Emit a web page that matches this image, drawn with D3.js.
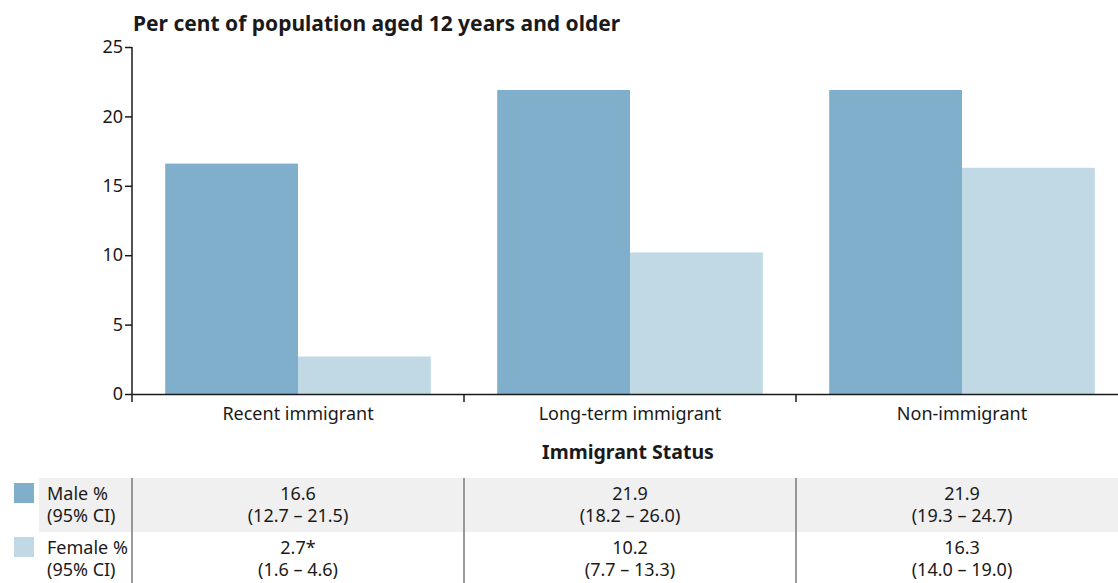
<!DOCTYPE html>
<html>
<head>
<meta charset="utf-8">
<script src="https://cdn.jsdelivr.net/npm/d3@7"></script>
<style>
  body { margin: 0; background: #fff; }
  svg text { font-family: "Noto Sans", "Open Sans", sans-serif; fill: #1a1a1a; }
</style>
</head>
<body>
<svg id="chart" width="1118" height="583"></svg>
<script>
// data
const categories = ["Recent immigrant", "Long-term immigrant", "Non-immigrant"];
const series = ["Male", "Female"];
const maleValues = [16.6, 21.9, 21.9];
const femaleValues = [2.7, 10.2, 16.3];
const maleLow = [12.7, 18.2, 19.3];
const maleHigh = [21.5, 26.0, 24.7];
const femaleLow = [1.6, 7.7, 14.0];
const femaleHigh = [4.6, 13.3, 19.0];
const femaleFlags = ["*", "", ""];
const yTicks = [0, 5, 10, 15, 20, 25];

const colors = { Male: "#7fafcb", Female: "#c0d9e5" };

const svg = d3.select("svg#chart");

const margins = { top: 47, left: 132 };
const plotRight = 1128;
const baseY = 394;
const fs = 18;

const xScale = d3
  .scaleBand()
  .domain(categories)
  .range([margins.left, plotRight])
  .paddingInner(0.2)
  .paddingOuter(0.1);

const xSub = d3.scaleBand().domain(series).range([0, xScale.bandwidth()]);

const yScale = d3.scaleLinear().domain([0, 25]).range([baseY, margins.top]);

// title
svg
  .append("text")
  .attr("x", 133)
  .attr("y", 31)
  .attr("font-size", 21)
  .attr("font-weight", "bold")
  .text("Per cent of population aged 12 years and older");

// bars
const rows = categories.map((c, i) => ({
  cat: c,
  vals: [
    { s: "Male", v: maleValues[i] },
    { s: "Female", v: femaleValues[i] },
  ],
}));

const groups = svg
  .selectAll("g.cat")
  .data(rows)
  .join("g")
  .attr("class", "cat")
  .attr("transform", (d) => `translate(${xScale(d.cat)},0)`);

groups
  .selectAll("rect")
  .data((d) => d.vals)
  .join("rect")
  .attr("x", (d) => xSub(d.s))
  .attr("width", xSub.bandwidth())
  .attr("y", (d) => yScale(d.v))
  .attr("height", (d) => baseY - yScale(d.v))
  .attr("fill", (d) => colors[d.s]);

// y axis
const yAxis = d3.axisLeft(yScale).tickValues(yTicks).tickSize(7).tickSizeOuter(0).tickPadding(2);
const yG = svg.append("g").attr("transform", `translate(${margins.left},0)`).call(yAxis);
yG.select(".domain").remove();
yG.selectAll(".tick line").attr("stroke", "#1a1a1a").attr("stroke-width", 1.5);
yG.selectAll(".tick text").attr("font-size", fs).style("font-family", '"Noto Sans", sans-serif').attr("fill", "#1a1a1a");
yG.append("line")
  .attr("x1", 0).attr("x2", 0)
  .attr("y1", yScale(25)).attr("y2", baseY + 8)
  .attr("stroke", "#1a1a1a").attr("stroke-width", 1.5);

// x axis
const xAxis = d3.axisBottom(xScale).tickSize(0).tickSizeOuter(0).tickPadding(13);
const xG = svg.append("g").attr("transform", `translate(0,${baseY})`).call(xAxis);
xG.select(".domain").attr("stroke", "#1a1a1a").attr("stroke-width", 1.5);
xG.selectAll(".tick text").attr("font-size", fs).style("font-family", '"Noto Sans", sans-serif').attr("fill", "#1a1a1a");

const bandStart = (c) => xScale(c) - xScale.step() * xScale.paddingOuter();
xG.selectAll("line.bound")
  .data(categories.slice(1))
  .join("line")
  .attr("class", "bound")
  .attr("x1", bandStart).attr("x2", bandStart)
  .attr("y1", 0).attr("y2", 8)
  .attr("stroke", "#1a1a1a").attr("stroke-width", 1.5);

// x axis title
svg
  .append("text")
  .attr("x", (margins.left + plotRight) / 2 - 2)
  .attr("y", 459)
  .attr("text-anchor", "middle")
  .attr("font-size", 19.5)
  .attr("font-weight", "bold")
  .text("Immigrant Status");

// data table
const fmt = d3.format(".1f");
const tableTop = 478;
const rowH = 54;

svg.append("rect")
  .attr("x", 39).attr("y", tableTop)
  .attr("width", 1118 - 39).attr("height", rowH)
  .attr("fill", "#f0f0f0");

const tableRows = [
  { s: "Male", vals: maleValues, low: maleLow, high: maleHigh, flags: ["", "", ""] },
  { s: "Female", vals: femaleValues, low: femaleLow, high: femaleHigh, flags: femaleFlags },
];

tableRows.forEach((r, ri) => {
  const top = tableTop + ri * rowH;
  svg.append("rect")
    .attr("x", 14).attr("y", top + 5)
    .attr("width", 20).attr("height", 20)
    .attr("fill", colors[r.s]);
  svg.append("text")
    .attr("x", 47).attr("y", top + 22)
    .attr("font-size", fs)
    .text(`${r.s} %`);
  svg.append("text")
    .attr("x", 47).attr("y", top + 44)
    .attr("font-size", fs)
    .text("(95% CI)");

  categories.forEach((c, i) => {
    const cx = bandStart(c) + xScale.step() / 2;
    svg.append("text")
      .attr("x", cx).attr("y", top + 22)
      .attr("text-anchor", "middle")
      .attr("font-size", fs)
      .text(fmt(r.vals[i]) + r.flags[i]);
    svg.append("text")
      .attr("x", cx).attr("y", top + 44)
      .attr("text-anchor", "middle")
      .attr("font-size", fs)
      .text(`(${fmt(r.low[i])} \u2013 ${fmt(r.high[i])})`);
  });
});

svg.selectAll("line.divider")
  .data(categories)
  .join("line")
  .attr("class", "divider")
  .attr("x1", bandStart).attr("x2", bandStart)
  .attr("y1", tableTop).attr("y2", 583)
  .attr("stroke", "#7a7a7a").attr("stroke-width", 1.5);
</script>
</body>
</html>
